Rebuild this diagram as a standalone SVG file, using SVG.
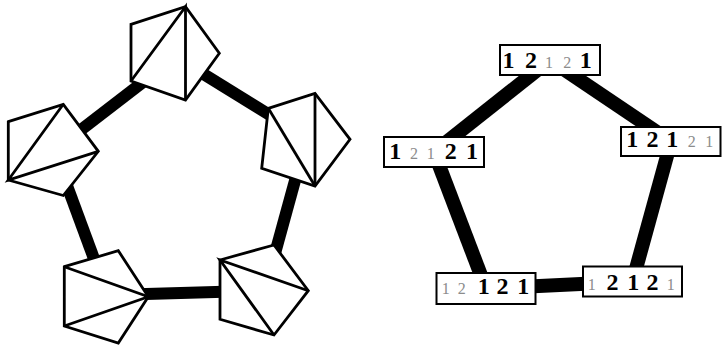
<svg xmlns="http://www.w3.org/2000/svg" width="722" height="345" viewBox="0 0 722 345">
<style>
.pent{fill:#fff;stroke:#000;stroke-width:2.8;stroke-linejoin:miter}
.diag{fill:none;stroke:#000;stroke-width:2.8}
.edgeL{stroke:#000;stroke-width:12;fill:none}
.edgeR{stroke:#000;stroke-width:14;fill:none}
.box{fill:#fff;stroke:#000;stroke-width:2}
.b{font-family:"Liberation Serif","Times New Roman",serif;font-weight:bold;font-size:24px;fill:#000;text-anchor:middle}
.g{font-family:"Liberation Serif","Times New Roman",serif;font-size:16px;fill:#8c8c8c;text-anchor:middle}
</style>
<rect width="722" height="345" fill="#fff"/>
<g id="connectors">
<line class="edgeL" x1="160" y1="69" x2="60" y2="146"/>
<line class="edgeL" x1="185" y1="62.7" x2="290" y2="127.5"/>
<line class="edgeL" x1="62" y1="172" x2="100" y2="275"/>
<line class="edgeL" x1="120" y1="294.7" x2="250" y2="291"/>
<line class="edgeL" x1="302" y1="155" x2="271" y2="268"/>
<line class="edgeR" x1="550" y1="60" x2="434" y2="152"/>
<line class="edgeR" x1="550" y1="60" x2="671" y2="141.5"/>
<line class="edgeR" x1="434" y1="152" x2="486" y2="288.5"/>
<line class="edgeR" x1="486" y1="288.5" x2="632.5" y2="281.5"/>
<line class="edgeR" x1="671" y1="141.5" x2="632.5" y2="281.5"/>
</g>
<g id="pent-top">
<polygon class="pent" points="131,24.3 185.5,6.7 219.3,53.3 185.5,100 131,81"/>
<polyline class="diag" points="131,81 185.5,6.7 185.5,100"/>
</g>
<g id="pent-right">
<polygon class="pent" points="268.3,108.3 315,93.3 350,139.3 315,186 261.7,168.3"/>
<line class="diag" x1="268.3" y1="108.3" x2="315" y2="186"/>
<line class="diag" x1="315" y1="93.3" x2="315" y2="186"/>
</g>
<g id="pent-left">
<polygon class="pent" points="8.3,121.7 63.3,104.3 98.3,151.3 63.3,195.5 8.3,180"/>
<polyline class="diag" points="63.3,104.3 8.3,180 98.3,151.3"/>
</g>
<g id="pent-bottom-left">
<polygon class="pent" points="64.3,266.7 118.3,250.7 148.3,296.7 118.3,343 64.3,326"/>
<polyline class="diag" points="64.3,266.7 148.3,296.7 64.3,326"/>
</g>
<g id="pent-bottom-right">
<polygon class="pent" points="220,260 274,245 308.3,290.7 274,335 220,319.3"/>
<polyline class="diag" points="308.3,290.7 220,260 274,335"/>
</g>
<g id="box-top">
<rect class="box" x="500" y="45" width="100" height="30"/>
<text class="b" x="508.5" y="67.5">1</text>
<text class="b" x="531" y="67.5">2</text>
<text class="g" x="549" y="67.5">1</text>
<text class="g" x="567.3" y="67.5">2</text>
<text class="b" x="585.7" y="67.5">1</text>
</g>
<g id="box-left">
<rect class="box" x="384" y="137" width="100" height="30"/>
<text class="b" x="395.3" y="158.5">1</text>
<text class="g" x="414" y="158.5">2</text>
<text class="g" x="430.8" y="158.5">1</text>
<text class="b" x="450.8" y="158.5">2</text>
<text class="b" x="472" y="158.5">1</text>
</g>
<g id="box-right">
<rect class="box" x="621" y="127" width="99.5" height="29"/>
<text class="b" x="632.3" y="146.5">1</text>
<text class="b" x="652.5" y="146.5">2</text>
<text class="b" x="672.3" y="146.5">1</text>
<text class="g" x="691.7" y="146.5">2</text>
<text class="g" x="709.2" y="146.5">1</text>
</g>
<g id="box-bottom-left">
<rect class="box" x="436.5" y="273" width="99" height="31"/>
<text class="g" x="445.8" y="294">1</text>
<text class="g" x="461.7" y="294">2</text>
<text class="b" x="483.7" y="294">1</text>
<text class="b" x="502.5" y="294">2</text>
<text class="b" x="523.3" y="294">1</text>
</g>
<g id="box-bottom-right">
<rect class="box" x="583" y="266.5" width="99" height="30"/>
<text class="g" x="591.7" y="290">1</text>
<text class="b" x="612.5" y="290">2</text>
<text class="b" x="633.3" y="290">1</text>
<text class="b" x="652.5" y="290">2</text>
<text class="g" x="670.8" y="290">1</text>
</g>
</svg>
